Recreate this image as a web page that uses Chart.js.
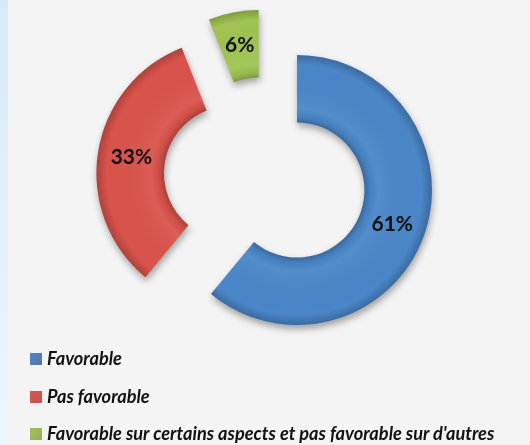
<!DOCTYPE html>
<html lang="fr">
<head>
<meta charset="utf-8">
<script src="https://cdn.jsdelivr.net/npm/chart.js@4/dist/chart.umd.min.js"></script>
<style>
    html, body { margin: 0; padding: 0; }
    body {
        width: 530px; height: 445px; overflow: hidden; position: relative;
        background: #f4f4f4;
    }
    .bande {
        position: absolute; left: 0; top: 0; width: 8px; height: 445px;
        background: linear-gradient(to bottom, #d5eaf8, #eef6fd);
    }
    #graphique { position: absolute; left: 0; top: 0; }
    #legende {
        position: absolute; left: 30px; top: 347px;
        font-family: Lato, "Open Sans", sans-serif;
        font-weight: bold; font-style: italic; font-size: 18.2px; color: #111;
    }
    #legende .item { height: 37.5px; display: flex; align-items: flex-start; }
    #legende .carre {
        width: 12px; height: 12px; margin: 6px 5px 0 0; flex: none;
    }
</style>
</head>
<body>
<div class="bande"></div>
<canvas id="graphique" width="530" height="357"></canvas>
<div id="legende"></div>

<script>
// Données
const categories = ['Favorable', 'Pas favorable', "Favorable sur certains aspects et pas favorable sur d'autres"];
const valeurs = [61, 33, 6];
const couleurs = ['#4a86c8', '#d9534b', '#9fc452'];
const couleursLegende = ['#5a74a6', '#c45454', '#9caa62'];
const decalage = [34, 34, 34]; // segments détachés

// Dessine chaque arc décalé vers l'extérieur, avec ombre et relief
const eclate = {
    id: 'eclate',
    beforeDatasetDraw(chart, args) {
        const ctx = chart.ctx;
        args.meta.data.forEach((arc, i) => {
            const mid = (arc.startAngle + arc.endAngle) / 2;
            const d = decalage[i];
            ctx.save();
            ctx.translate(Math.cos(mid) * d, Math.sin(mid) * d);
            ctx.shadowColor = 'rgba(0,0,0,0.35)';
            ctx.shadowBlur = 7;
            ctx.shadowOffsetX = 1;
            ctx.shadowOffsetY = 4;
            arc.draw(ctx);
            ctx.shadowColor = 'transparent';

            // relief : bords plus sombres
            const g = ctx.createRadialGradient(arc.x, arc.y, arc.innerRadius, arc.x, arc.y, arc.outerRadius);
            g.addColorStop(0, 'rgba(0,0,0,0.22)');
            g.addColorStop(0.08, 'rgba(0,0,0,0.05)');
            g.addColorStop(0.2, 'rgba(255,255,255,0.06)');
            g.addColorStop(0.85, 'rgba(0,0,0,0)');
            g.addColorStop(1, 'rgba(0,0,0,0.2)');
            ctx.beginPath();
            ctx.arc(arc.x, arc.y, arc.outerRadius, arc.startAngle, arc.endAngle);
            ctx.arc(arc.x, arc.y, arc.innerRadius, arc.endAngle, arc.startAngle, true);
            ctx.closePath();
            ctx.fillStyle = g;
            ctx.fill();
            ctx.restore();
        });
        return false;
    },
    afterDatasetsDraw(chart) {
        const ctx = chart.ctx;
        const meta = chart.getDatasetMeta(0);
        ctx.save();
        ctx.font = 'bold 21px Lato, "Open Sans", sans-serif';
        ctx.fillStyle = '#111';
        ctx.textAlign = 'center';
        ctx.textBaseline = 'middle';
        meta.data.forEach((arc, i) => {
            const mid = (arc.startAngle + arc.endAngle) / 2;
            const r = (arc.innerRadius + arc.outerRadius) / 2 + decalage[i];
            ctx.fillText(valeurs[i] + '%', arc.x + Math.cos(mid) * r, arc.y + Math.sin(mid) * r);
        });
        ctx.restore();
    }
};

new Chart(document.getElementById('graphique'), {
    type: 'doughnut',
    data: {
        labels: categories,
        datasets: [{
            data: valeurs,
            backgroundColor: couleurs,
            borderWidth: 0
        }]
    },
    options: {
        responsive: false,
        animation: false,
        radius: 135,
        cutout: '50%',
        layout: { padding: 0 },
        plugins: {
            legend: { display: false },
            tooltip: { enabled: false }
        }
    },
    plugins: [eclate]
});

// Légende
const legende = document.getElementById('legende');
categories.forEach((nom, i) => {
    const item = document.createElement('div');
    item.className = 'item';
    const carre = document.createElement('span');
    carre.className = 'carre';
    carre.style.background = `linear-gradient(135deg, ${couleurs[i]}, ${couleursLegende[i]})`;
    const texte = document.createElement('span');
    texte.textContent = nom;
    item.appendChild(carre);
    item.appendChild(texte);
    legende.appendChild(item);
});
</script>
</body>
</html>
